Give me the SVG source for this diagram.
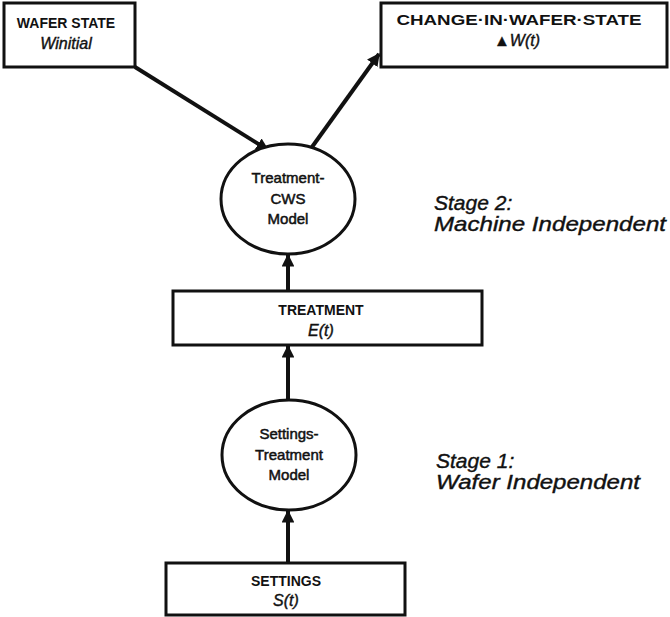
<svg xmlns="http://www.w3.org/2000/svg" width="670" height="617" viewBox="0 0 670 617">
  <style>
    .box { fill: #ffffff; stroke: #111111; stroke-width: 3; }
    .oval { fill: #ffffff; stroke: #111111; stroke-width: 3; }
    .wire { fill: none; stroke: #111111; stroke-width: 4; }
    .cap { font-family: "Liberation Sans", Arial, sans-serif; font-weight: bold; font-size: 14px; fill: #111111; text-anchor: middle; }
    .sym { font-family: "Liberation Sans", Arial, sans-serif; font-style: italic; font-size: 16px; fill: #111111; stroke: #111111; stroke-width: 0.4; text-anchor: middle; }
    .lbl { font-family: "Liberation Sans", Arial, sans-serif; font-size: 15px; fill: #111111; stroke: #111111; stroke-width: 0.5; text-anchor: middle; }
    .stage { font-family: "Liberation Sans", Arial, sans-serif; font-style: italic; font-size: 21px; fill: #111111; stroke: #111111; stroke-width: 0.4; }
  </style>
  <defs>
    <marker id="head" viewBox="0 0 10 10" refX="9" refY="5" markerWidth="3.2" markerHeight="3.2" orient="auto" markerUnits="strokeWidth">
      <path d="M0,0 L10,5 L0,10 Z" fill="#111111"/>
    </marker>
  </defs>
  <rect width="670" height="617" fill="#ffffff"/>

  <g id="connectors">
    <line class="wire" x1="135" y1="67" x2="268" y2="150" marker-end="url(#head)"/>
    <line class="wire" x1="312" y1="147" x2="379" y2="54" marker-end="url(#head)"/>
    <line class="wire" x1="288" y1="291" x2="288" y2="255" marker-end="url(#head)"/>
    <line class="wire" x1="288" y1="400" x2="288" y2="346" marker-end="url(#head)"/>
    <line class="wire" x1="288" y1="563" x2="288" y2="511" marker-end="url(#head)"/>
  </g>

  <g id="wafer-state">
    <rect class="box" x="4" y="3" width="131" height="64"/>
    <text class="cap" x="66" y="28">WAFER STATE</text>
    <text class="sym" x="66" y="49">Winitial</text>
  </g>

  <g id="change-in-wafer-state">
    <rect class="box" x="381" y="3" width="286" height="64"/>
    <text class="cap" x="519" y="25" textLength="245" lengthAdjust="spacingAndGlyphs">CHANGE·IN·WAFER·STATE</text>
    <text class="sym" x="517" y="46"><tspan font-style="normal">▲</tspan>W(t)</text>
  </g>

  <g id="treatment-cws-model">
    <ellipse class="oval" cx="288" cy="199" rx="67" ry="55"/>
    <text class="lbl" x="288" y="183">Treatment-</text>
    <text class="lbl" x="288" y="204">CWS</text>
    <text class="lbl" x="288" y="224">Model</text>
  </g>

  <g id="treatment">
    <rect class="box" x="173" y="291" width="309" height="54"/>
    <text class="cap" x="321" y="315">TREATMENT</text>
    <text class="sym" x="321" y="336">E(t)</text>
  </g>

  <g id="settings-treatment-model">
    <ellipse class="oval" cx="289" cy="455" rx="67" ry="55"/>
    <text class="lbl" x="289" y="439">Settings-</text>
    <text class="lbl" x="289" y="460">Treatment</text>
    <text class="lbl" x="289" y="480">Model</text>
  </g>

  <g id="settings">
    <rect class="box" x="166" y="563" width="239" height="52"/>
    <text class="cap" x="286" y="586">SETTINGS</text>
    <text class="sym" x="286" y="606">S(t)</text>
  </g>

  <g id="stage-labels">
    <text class="stage" x="434" y="210">Stage 2:</text>
    <text class="stage" x="434" y="231" textLength="232" lengthAdjust="spacingAndGlyphs">Machine Independent</text>
    <text class="stage" x="436" y="468">Stage 1:</text>
    <text class="stage" x="436" y="489" textLength="204" lengthAdjust="spacingAndGlyphs">Wafer Independent</text>
  </g>
</svg>
